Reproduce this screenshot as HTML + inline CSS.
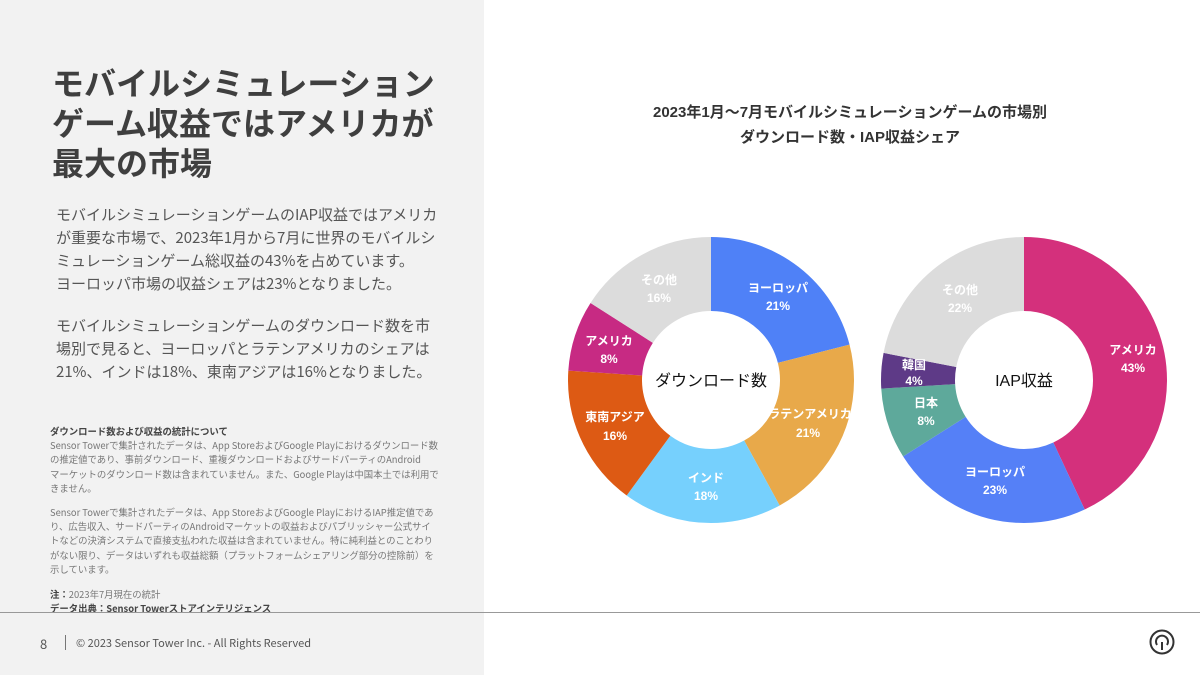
<!DOCTYPE html>
<html><head><meta charset="utf-8"><style>
body{margin:0;width:1200px;height:675px;position:relative;background:#fff;font-family:"Liberation Sans","Noto Sans CJK JP",sans-serif;overflow:hidden}
#left{position:absolute;left:0;top:0;width:484px;height:675px;background:#f2f2f2}
.t{position:absolute;white-space:nowrap}
h1{position:absolute;left:52px;top:62px;margin:0;font-size:32px;line-height:40px;color:#3f3f3f;font-weight:bold;font-family:"Noto Sans CJK JP",sans-serif}
.body{position:absolute;left:56px;font-size:15px;line-height:23px;color:#555;font-family:"Noto Sans CJK JP",sans-serif;white-space:nowrap}
.note{position:absolute;left:50px;font-size:9.4px;line-height:14.2px;color:#777;font-family:"Noto Sans CJK JP",sans-serif;white-space:nowrap}
.note b{color:#444}
</style></head><body>
<div id="left"></div>
<h1>モバイルシミュレーション<br>ゲーム収益ではアメリカが<br>最大の市場</h1>
<div class="body" style="top:203px">モバイルシミュレーションゲームのIAP収益ではアメリカ<br>が重要な市場で、2023年1月から7月に世界のモバイルシ<br>ミュレーションゲーム総収益の43%を占めています。<br>ヨーロッパ市場の収益シェアは23%となりました。</div>
<div class="body" style="top:314px">モバイルシミュレーションゲームのダウンロード数を市<br>場別で見ると、ヨーロッパとラテンアメリカのシェアは<br>21%、インドは18%、東南アジアは16%となりました。</div>
<div class="note" style="top:424px"><b>ダウンロード数および収益の統計について</b><br>Sensor Towerで集計されたデータは、App StoreおよびGoogle Playにおけるダウンロード数<br>の推定値であり、事前ダウンロード、重複ダウンロードおよびサードパーティのAndroid<br>マーケットのダウンロード数は含まれていません。また、Google Playは中国本土では利用で<br>きません。</div>
<div class="note" style="top:505px">Sensor Towerで集計されたデータは、App StoreおよびGoogle PlayにおけるIAP推定値であ<br>り、広告収入、サードパーティのAndroidマーケットの収益およびパブリッシャー公式サイ<br>トなどの決済システムで直接支払われた収益は含まれていません。特に純利益とのことわり<br>がない限り、データはいずれも収益総額（プラットフォームシェアリング部分の控除前）を<br>示しています。</div>
<div class="note" style="top:587px"><b>注：</b>2023年7月現在の統計<br><b>データ出典：Sensor Towerストアインテリジェンス</b></div>
<div style="position:absolute;left:0;top:612px;width:1200px;height:1px;background:#999"></div>
<div class="t" style="left:40px;top:634px;font-size:13px;color:#555;font-family:'Noto Sans CJK JP',sans-serif">8</div>
<div style="position:absolute;left:65px;top:635px;width:1px;height:15px;background:#777"></div>
<div class="t" style="left:76px;top:635px;font-size:11px;color:#555;font-family:'Noto Sans CJK JP',sans-serif">© 2023 Sensor Tower Inc. - All Rights Reserved</div>
<svg style="position:absolute;left:1148px;top:628px" width="28" height="28" viewBox="0 0 28 28"><circle cx="14" cy="14" r="11.5" fill="none" stroke="#333" stroke-width="2"/><path d="M14 22V14M9 17a6 6 0 1 1 10 0" fill="none" stroke="#333" stroke-width="2"/></svg>
<div class="t" style="left:500px;width:700px;text-align:center;top:100px;font-size:15px;font-weight:bold;color:#333;line-height:25px;font-family:'Liberation Sans','Noto Sans CJK JP',sans-serif">2023年1月～7月モバイルシミュレーションゲームの市場別<br>ダウンロード数・IAP収益シェア</div>
<svg style="position:absolute;left:0;top:0" width="1200" height="675">
<g transform="rotate(-90 711 380)" fill="none" stroke-width="74">
<circle cx="711" cy="380" r="106" stroke="#4f81f7" stroke-dasharray="139.9 666" stroke-dashoffset="0"/>
<circle cx="711" cy="380" r="106" stroke="#e8a94a" stroke-dasharray="139.9 666" stroke-dashoffset="-139.9"/>
<circle cx="711" cy="380" r="106" stroke="#76d0fd" stroke-dasharray="119.9 666" stroke-dashoffset="-279.8"/>
<circle cx="711" cy="380" r="106" stroke="#dd5a14" stroke-dasharray="106.6 666" stroke-dashoffset="-399.7"/>
<circle cx="711" cy="380" r="106" stroke="#c72a83" stroke-dasharray="53.3 666" stroke-dashoffset="-506.3"/>
<circle cx="711" cy="380" r="106" stroke="#dcdcdc" stroke-dasharray="106.6 666" stroke-dashoffset="-559.6"/>
</g>
<g transform="rotate(-90 1024 380)" fill="none" stroke-width="74">
<circle cx="1024" cy="380" r="106" stroke="#d4307c" stroke-dasharray="286.4 666" stroke-dashoffset="0"/>
<circle cx="1024" cy="380" r="106" stroke="#5580f7" stroke-dasharray="153.2 666" stroke-dashoffset="-286.4"/>
<circle cx="1024" cy="380" r="106" stroke="#5ea99b" stroke-dasharray="53.3 666" stroke-dashoffset="-439.6"/>
<circle cx="1024" cy="380" r="106" stroke="#5e3a87" stroke-dasharray="26.6 666" stroke-dashoffset="-492.9"/>
<circle cx="1024" cy="380" r="106" stroke="#dcdcdc" stroke-dasharray="146.5 666" stroke-dashoffset="-519.5"/>
</g>
<g font-family="Liberation Sans,Noto Sans CJK JP,sans-serif" font-size="12" fill="#fff" text-anchor="middle" font-weight="bold">
<text x="659" y="284">その他</text><text x="659" y="302">16%</text>
<text x="778" y="292">ヨーロッパ</text><text x="778" y="310">21%</text>
<text x="810" y="418">ラテンアメリカ</text><text x="808" y="437">21%</text>
<text x="706" y="482">インド</text><text x="706" y="500">18%</text>
<text x="615" y="421">東南アジア</text><text x="615" y="440">16%</text>
<text x="609" y="345">アメリカ</text><text x="609" y="363">8%</text>
<text x="960" y="294">その他</text><text x="960" y="312">22%</text>
<text x="914" y="369">韓国</text><text x="914" y="385">4%</text>
<text x="926" y="407">日本</text><text x="926" y="425">8%</text>
<text x="995" y="476">ヨーロッパ</text><text x="995" y="494">23%</text>
<text x="1133" y="354">アメリカ</text><text x="1133" y="372">43%</text>
</g>
<g font-family="Liberation Sans,Noto Sans CJK JP,sans-serif" font-size="16" fill="#111" text-anchor="middle">
<text x="711" y="386">ダウンロード数</text><text x="1024" y="386">IAP収益</text>
</g>
</svg>
</body></html>
